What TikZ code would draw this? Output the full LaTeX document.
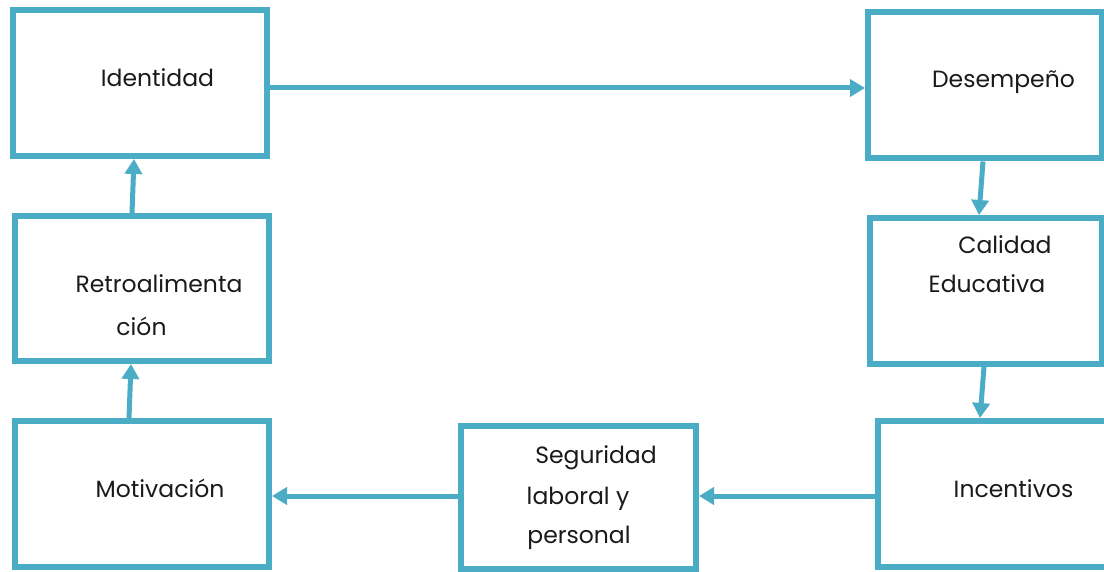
\documentclass[tikz,border=0pt]{standalone}
\usepackage{fontspec}
\setmainfont{Poppins}
\usetikzlibrary{arrows.meta}
\definecolor{accent}{HTML}{4BACC6}
\definecolor{txt}{HTML}{1A1A1A}
\tikzset{
  box/.style={draw=accent, line width=6pt, fill=white, rectangle, inner sep=0pt},
  lbl/.style={anchor=base, inner sep=0pt, text=txt, font=\fontsize{23.5}{28}\selectfont},
  arr/.style={draw=accent, line width=5pt, -{Triangle[length=15pt,width=17pt]}}
}
\begin{document}
\begin{tikzpicture}[x=1pt,y=-1pt]
\clip (0,0) rectangle (1104,572);
\fill[white] (0,0) rectangle (1104,572);
% boxes
\node[box, minimum width=254pt, minimum height=146pt] (iden) at (140,83) {};
\node[box, minimum width=234pt, minimum height=146pt] (desem) at (985,85.5) {};
\node[box, minimum width=232pt, minimum height=146pt] (cal) at (986,291) {};
\node[box, minimum width=230pt, minimum height=146pt] (inc) at (993,494) {};
\node[box, minimum width=235pt, minimum height=143pt] (seg) at (578.5,497.5) {};
\node[box, minimum width=254pt, minimum height=146pt] (mot) at (142,494) {};
\node[box, minimum width=254pt, minimum height=145pt] (retro) at (142,288.5) {};
% labels
\node[lbl] (t1) at (157.5,87) {Identidad};
\node[lbl] (t2) at (1003.5,88) {Desempeño};
\node[lbl] (t3a) at (1005,254) {Calidad};
\node[lbl] (t3b) at (987,293) {Educativa};
\node[lbl] (t4) at (1013.5,497) {Incentivos};
\node[lbl] (t5a) at (596,463) {Seguridad};
\node[lbl] (t5b) at (578,504) {laboral y};
\node[lbl] (t5c) at (579,543) {personal};
\node[lbl] (t6) at (160,497) {Motivación};
\node[lbl] (t7a) at (159,293) {Retroalimenta};
\node[lbl] (t7b) at (141.5,336) {ción};
% connectors
\draw[arr] ([yshift=-5pt]iden.east) -- ([yshift=-5pt]iden.east -| desem.west);
\draw[arr] ([xshift=-2pt]desem.south) -- ([xshift=-7pt]cal.north);
\draw[arr] ([xshift=-2pt]cal.south) -- ([xshift=-13pt]inc.north);
\draw[arr] ([yshift=-2pt]inc.west) -- ([yshift=-2pt]inc.west -| seg.east);
\draw[arr] ([yshift=1.5pt]seg.west) -- ([yshift=1.5pt]seg.west -| mot.east);
\draw[arr] ([xshift=-13pt]mot.north) -- ([xshift=-11pt]retro.south);
\draw[arr] ([xshift=-10pt]retro.north) -- ([xshift=-6pt]iden.south);
\end{tikzpicture}
\end{document}
